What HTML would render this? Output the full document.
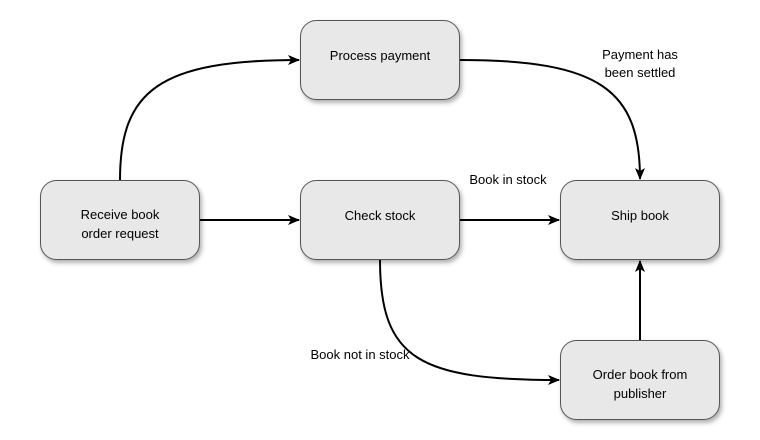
<!DOCTYPE html>
<html><head><style>
body{margin:0;background:#fff;}
svg{display:block;font-family:"Liberation Sans",Arial,sans-serif;}
</style></head><body>
<svg width="760" height="440" viewBox="0 0 760 440" xmlns="http://www.w3.org/2000/svg">
<defs>
<marker id="a" markerWidth="12" markerHeight="10" refX="11" refY="5" orient="auto" markerUnits="userSpaceOnUse">
<path d="M0,0 L12,5 L0,10 L3,5 Z" fill="#000"/></marker>
<filter id="s" x="-10%" y="-10%" width="130%" height="140%"><feDropShadow dx="2" dy="3" stdDeviation="2" flood-color="#000" flood-opacity="0.3"/></filter>
</defs>
<g fill="#e8e8e8" stroke="#555" stroke-width="1" filter="url(#s)">
<rect x="300.5" y="20.5" width="159" height="79" rx="16"/>
<rect x="40.5" y="180.5" width="159" height="79" rx="16"/>
<rect x="300.5" y="180.5" width="159" height="79" rx="16"/>
<rect x="560.5" y="180.5" width="159" height="79" rx="16"/>
<rect x="560.5" y="340.5" width="159" height="79" rx="16"/>
</g>
<g fill="none" stroke="#000" stroke-width="2" marker-end="url(#a)">
<path d="M120,180 C120,90 160,60 299,60"/>
<path d="M460,60 C600,60 640,90 640,179"/>
<path d="M200,220 L299,220"/>
<path d="M460,220 L559,220"/>
<path d="M380,260 C380,360 420,380 559,380"/>
<path d="M640,340 L640,261"/>
</g>
<g font-size="13" fill="#000" text-anchor="middle">
<text x="380" y="60">Process payment</text>
<text x="120" y="219">Receive book</text>
<text x="120" y="238">order request</text>
<text x="380" y="220">Check stock</text>
<text x="640" y="220">Ship book</text>
<text x="640" y="379">Order book from</text>
<text x="640" y="398">publisher</text>
<text x="640" y="59">Payment has</text>
<text x="640" y="77">been settled</text>
<text x="508" y="184">Book in stock</text>
<text x="360" y="359">Book not in stock</text>
</g>
</svg>
</body></html>
